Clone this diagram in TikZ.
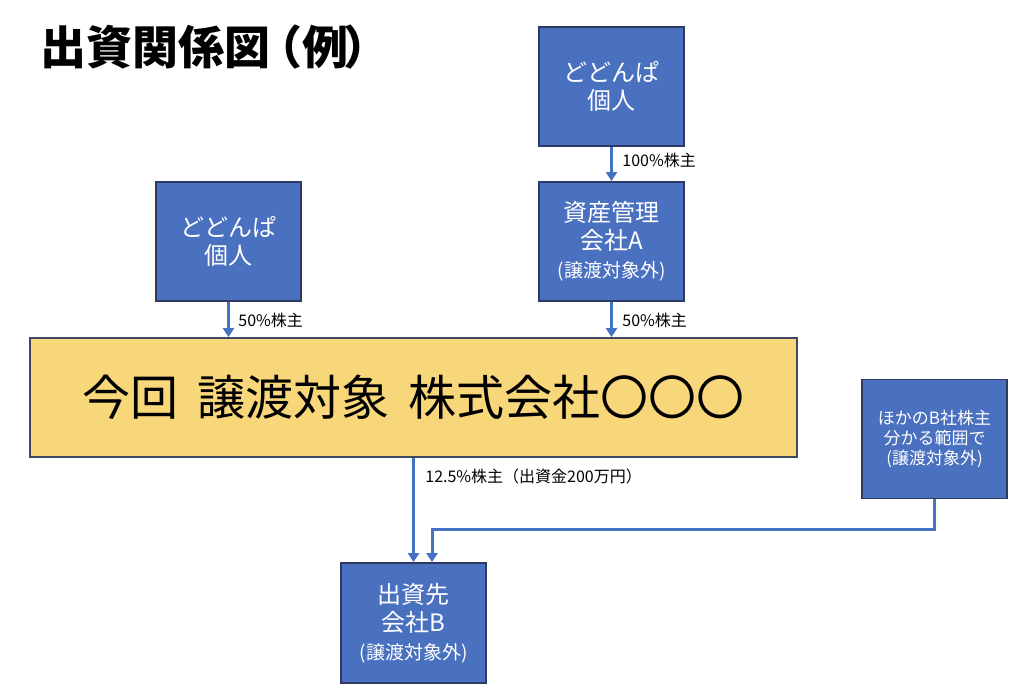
\documentclass[tikz,border=0pt]{standalone}
\usepackage{fontspec}
\setmainfont{Noto Sans CJK JP}
\usetikzlibrary{arrows.meta}
\definecolor{boxfill}{HTML}{4A70C0}
\definecolor{boxline}{HTML}{2E3A62}
\definecolor{arrowc}{HTML}{4472C4}
\definecolor{yellowfill}{HTML}{F7D77A}
\definecolor{yellowline}{HTML}{404862}
\tikzset{
  bluebox/.style={draw=boxline, line width=0.9pt, fill=boxfill, text=white,
    minimum width=72.5pt, minimum height=59.5pt, inner sep=0pt, align=center,
    font=\fontsize{12pt}{14pt}\selectfont},
  mainbox/.style={draw=yellowline, line width=0.9pt, fill=yellowfill, text=black,
    minimum width=383.5pt, minimum height=59.5pt, inner sep=0pt,
    font=\fontsize{24pt}{28pt}\selectfont},
  link/.style={draw=arrowc, line width=1.5pt, -{Triangle[width=5.5pt,length=4.5pt]}},
  lbl/.style={anchor=west, inner sep=0pt, font=\fontsize{8pt}{10pt}\selectfont}
}
\newcommand{\smalltext}[1]{{\fontsize{9.5pt}{11pt}\selectfont #1}}
\begin{document}
\begin{tikzpicture}[x=0.5pt,y=-0.5pt]
\useasboundingbox (0,0) rectangle (1024,694);
\node[anchor=west, inner sep=0pt, font=\fontsize{23pt}{27pt}\selectfont\bfseries] (title) at (40,47) {出資関係図\kern-0.3em（例\kern-0.1em）};
\node[bluebox] (top) at (611.5,86.5) {どどんぱ\\個人};
\node[bluebox] (compA) at (611.5,241.5) {資産管理\\会社A\\\smalltext{(譲渡対象外)}};
\node[bluebox] (left) at (228.5,241.5) {どどんぱ\\個人};
\node[mainbox] (main) at (413.5,397.5) {今回\hspace{0.4em}譲渡対象\hspace{0.4em}株式会社〇〇〇};
\node[bluebox, font=\fontsize{8.5pt}{10pt}\selectfont] (other) at (934.5,439) {ほかのB社株主\\分かる範囲で\\(譲渡対象外)};
\node[bluebox, minimum height=60pt] (compB) at (413.5,623) {出資先\\会社B\\\smalltext{(譲渡対象外)}};
\coordinate (bend) at (432,530);
\draw[link] (top.south) -- (compA.north);
\draw[link] (left.south) -- (left.south |- main.north);
\draw[link] (compA.south) -- (compA.south |- main.north);
\draw[link] (main.south -| compB.north) -- (compB.north);
\draw[link] (other.south) |- (bend) -- (bend |- compB.north);
\node[lbl] (l1) at (622,160) {100\%株主};
\node[lbl] (l2) at (238,320) {50\%株主};
\node[lbl] (l3) at (622,320) {50\%株主};
\node[lbl] (l4) at (425,476) {12.5\%株主（出資金200万円）};
\end{tikzpicture}
\end{document}
